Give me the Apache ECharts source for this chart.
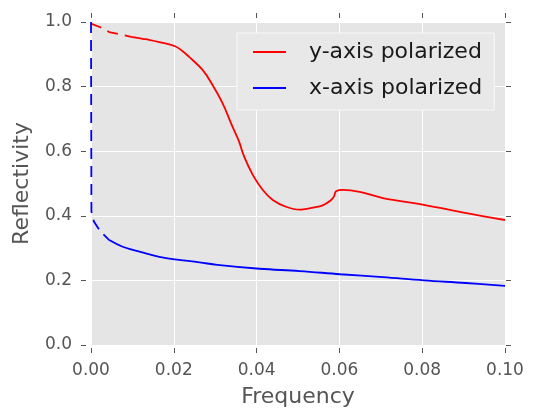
<!DOCTYPE html>
<html>
<head>
<meta charset="utf-8">
<script src="https://cdn.jsdelivr.net/npm/echarts@6/dist/echarts.min.js"></script>
<style>html,body{margin:0;padding:0;background:#fff}#c{width:533px;height:411px}</style>
</head>
<body>
<div id="c"></div>
<script>
// Data
const xTicks = [0, 0.02, 0.04, 0.06, 0.08, 0.10];
const yTicks = [0.0, 0.2, 0.4, 0.6, 0.8, 1.0];

const redDashX = [0, 0.0024, 0.0044, 0.0076, 0.0097];
const redDashY = [0.995, 0.983, 0.969, 0.960, 0.954];
const redX = [0.0097, 0.0125, 0.014, 0.0165, 0.0203, 0.022, 0.0237, 0.027, 0.0294, 0.0318, 0.0342, 0.0357, 0.037, 0.0391, 0.0415, 0.0439, 0.0471, 0.0504, 0.0512, 0.0552, 0.0565, 0.058, 0.0587, 0.0592, 0.0609, 0.0649, 0.0705, 0.0804, 0.0907, 0.1];
const redY = [0.954, 0.948, 0.945, 0.938, 0.925, 0.911, 0.892, 0.851, 0.804, 0.748, 0.675, 0.632, 0.583, 0.526, 0.480, 0.449, 0.428, 0.419, 0.420, 0.429, 0.436, 0.449, 0.460, 0.476, 0.480, 0.474, 0.455, 0.434, 0.408, 0.387];

const blueDashX = [0, 0.0001, 0.0007, 0.0023, 0.0044];
const blueDashY = [1.0, 0.413, 0.382, 0.351, 0.325];
const blueX = [0.0044, 0.0075, 0.0103, 0.0132, 0.0165, 0.0203, 0.0262, 0.0305, 0.0407, 0.0504, 0.0602, 0.0705, 0.0804, 0.0905, 0.1];
const blueY = [0.325, 0.305, 0.294, 0.284, 0.273, 0.265, 0.256, 0.248, 0.236, 0.229, 0.219, 0.210, 0.200, 0.192, 0.183];

const pairs = (xs, ys) => xs.map((x, i) => [x, ys[i]]);
const FONT = 'DejaVu Sans';
const GRAY = '#555555';

const chart = echarts.init(document.getElementById('c'), null, {renderer: 'canvas'});
const baseX = {
  type: 'value', min: 0, max: 0.1, interval: 0.02,
  axisLine: {show: false, onZero: false}, splitLine: {show: false},
  axisTick: {show: true, inside: false, length: 5, lineStyle: {color: GRAY, width: 1}}
};
const baseY = {
  type: 'value', min: 0, max: 1, interval: 0.2,
  axisLine: {show: false, onZero: false}, splitLine: {show: false},
  axisTick: {show: true, inside: false, length: 5, lineStyle: {color: GRAY, width: 1}}
};
chart.setOption({
  animation: false,
  backgroundColor: '#ffffff',
  textStyle: {fontFamily: FONT},
  grid: {left: 91, right: 28, top: 22, bottom: 66, show: true, backgroundColor: '#e5e5e5', borderWidth: 0,
         containLabel: false, outerBoundsMode: 'none'},
  legend: {
    orient: 'vertical', left: 237, top: 33,
    data: ['y-axis polarized', 'x-axis polarized'],
    icon: 'rect',
    padding: [7, 12, 10, 16],
    itemWidth: 33, itemHeight: 2, itemGap: 12,
    backgroundColor: '#e8e8e8', borderColor: '#f8f8f8', borderWidth: 1,
    textStyle: {fontFamily: FONT, fontSize: 22, lineHeight: 24, color: '#1a1a1a', padding: [0, 0, 0, 18]}
  },
  xAxis: [
    Object.assign({}, baseX, {
      position: 'bottom', offset: 3,
      splitLine: {show: true, lineStyle: {color: '#ffffff', width: 1}},
      axisLabel: {fontFamily: FONT, fontSize: 17, color: GRAY, margin: 14, formatter: v => v.toFixed(2)},
      name: 'Frequency', nameLocation: 'middle', nameGap: 38,
      nameTextStyle: {fontFamily: FONT, fontSize: 22, color: GRAY}
    }),
    Object.assign({}, baseX, {position: 'top', offset: 4, axisLabel: {show: false}})
  ],
  yAxis: [
    Object.assign({}, baseY, {
      position: 'left', offset: 5,
      splitLine: {show: true, lineStyle: {color: '#ffffff', width: 1}},
      axisLabel: {fontFamily: FONT, fontSize: 17, color: GRAY, margin: 14, formatter: v => v.toFixed(1)},
      name: 'Reflectivity', nameLocation: 'middle', nameGap: 53,
      nameTextStyle: {fontFamily: FONT, fontSize: 22, color: GRAY}
    }),
    Object.assign({}, baseY, {position: 'right', offset: 1, axisLabel: {show: false}})
  ],
  series: [
    {name: 'y-axis polarized', type: 'line', symbol: 'none', data: pairs(redX, redY),
     smooth: 0.4,
     lineStyle: {color: '#ff0000', width: 1.8}, itemStyle: {color: '#ff0000'}, z: 3},
    {name: 'x-axis polarized', type: 'line', symbol: 'none', data: pairs(blueX, blueY),
     smooth: 0.4,
     lineStyle: {color: '#0000ff', width: 1.8}, itemStyle: {color: '#0000ff'}, z: 3},
    {name: 'y-dash', type: 'line', symbol: 'none', data: pairs(redDashX, redDashY),
     lineStyle: {color: '#ff0000', width: 1.8, type: [11, 7]}, z: 3},
    {name: 'x-dash', type: 'line', symbol: 'none', data: pairs(blueDashX, blueDashY),
     lineStyle: {color: '#0000ff', width: 1.8, type: [11, 7]}, z: 3}
  ]
});
</script>
</body>
</html>
